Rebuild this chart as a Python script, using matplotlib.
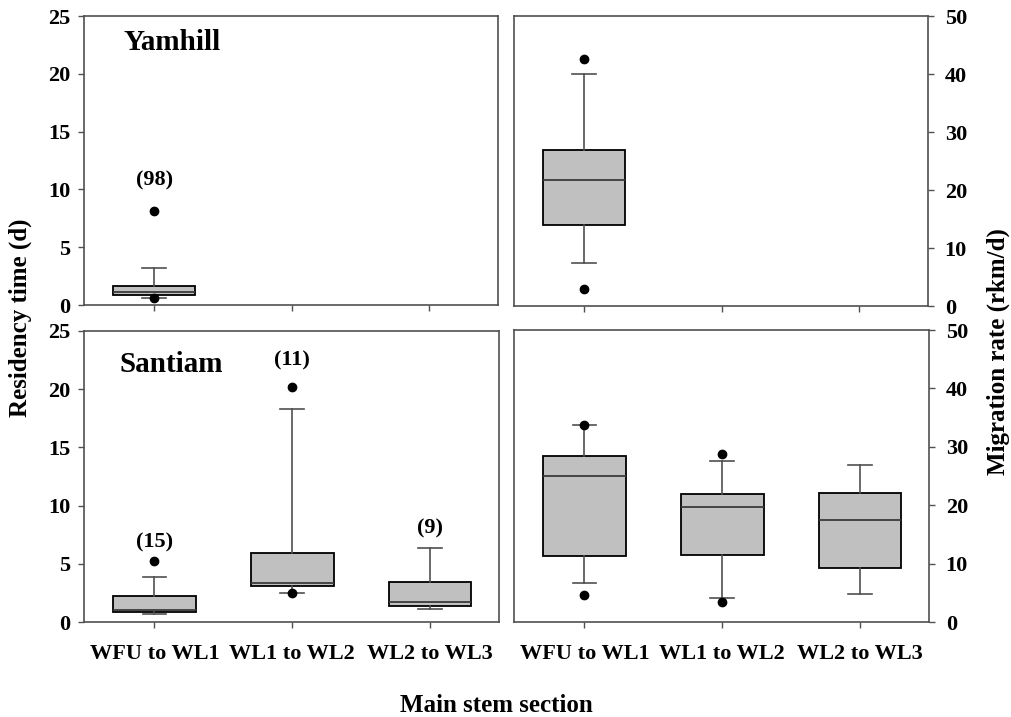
import matplotlib
matplotlib.use("Agg")
import matplotlib.pyplot as plt

plt.rcParams['font.family'] = ['Liberation Serif', 'DejaVu Serif']
plt.rcParams['font.weight'] = 'bold'

sections = ["WFU to WL1", "WL1 to WL2", "WL2 to WL3"]

# Residency time (d) - Yamhill (only first section)
yam_res_q1 = [0.87]
yam_res_med = [1.1]
yam_res_q3 = [1.68]
yam_res_lo = [0.6]
yam_res_hi = [3.2]
yam_res_fliers = [[8.1, 0.6]]
yam_n = ["(98)"]
yam_label_y = [10.8]

# Migration rate (rkm/d) - Yamhill
yam_mig_q1 = [13.97]
yam_mig_med = [21.8]
yam_mig_q3 = [26.96]
yam_mig_lo = [7.45]
yam_mig_hi = [39.95]
yam_mig_fliers = [[42.6, 3.0]]

# Residency time (d) - Santiam
san_res_q1 = [0.86, 3.06, 1.40]
san_res_med = [1.0, 3.37, 1.69]
san_res_q3 = [2.2, 5.89, 3.43]
san_res_lo = [0.69, 2.49, 1.09]
san_res_hi = [3.86, 18.3, 6.37]
san_res_fliers = [[5.2], [20.2, 2.49], []]
san_n = ["(15)", "(11)", "(9)"]
san_label_y = [6.8, 22.5, 8.0]

# Migration rate (rkm/d) - Santiam
san_mig_q1 = [11.23, 11.46, 9.29]
san_mig_med = [25.03, 19.73, 17.45]
san_mig_q3 = [28.4, 21.95, 22.12]
san_mig_lo = [6.67, 4.05, 4.73]
san_mig_hi = [33.75, 27.6, 26.9]
san_mig_fliers = [[33.8, 4.67], [28.7, 3.48], []]

W, H = 1011, 717
fig = plt.figure(figsize=(W / 100, H / 100), dpi=100)


def add_ax(x, y, w, h):
    return fig.add_axes([x / W, (H - y - h) / H, w / W, h / H])


ax_tl = add_ax(84, 16, 414, 289)
ax_tr = add_ax(514, 16, 414, 290)
ax_bl = add_ax(84, 331, 415, 291)
ax_br = add_ax(514, 330, 415, 292)

spine_col = '#505050'


def stats(q1, med, q3, lo, hi, fl):
    return [dict(q1=a, med=b, q3=c, whislo=d, whishi=e, fliers=f)
            for a, b, c, d, e, f in zip(q1, med, q3, lo, hi, fl)]


def draw(ax, st, ymax, yticks, right=False, xlabels=False):
    ax.bxp(st, positions=list(range(1, len(st) + 1)), widths=0.6,
           capwidths=0.17, patch_artist=True, showfliers=True,
           boxprops=dict(facecolor='#c0c0c0', edgecolor='black', linewidth=1.3),
           medianprops=dict(color='#3a3a3a', linewidth=1.3),
           whiskerprops=dict(color='#505050', linewidth=1.2),
           capprops=dict(color='#505050', linewidth=1.2),
           flierprops=dict(marker='o', markerfacecolor='black',
                           markeredgecolor='black', markersize=6))
    ax.set_xlim(0.49, 3.5)
    ax.set_ylim(0, ymax)
    ax.set_yticks(yticks)
    ax.set_xticks([1, 2, 3])
    if xlabels:
        ax.set_xticklabels(sections, fontsize=16, fontweight='bold')
    else:
        ax.set_xticklabels([])
    for s in ax.spines.values():
        s.set_color(spine_col)
        s.set_linewidth(1.2)
    ax.tick_params(axis='both', direction='out', length=4, width=1,
                   color=spine_col, labelsize=16, pad=6)
    ax.tick_params(axis='x', pad=12)
    if right:
        ax.yaxis.tick_right()
        ax.tick_params(axis='y', left=False, right=True, pad=8)
    else:
        ax.tick_params(axis='y', pad=6)


draw(ax_tl, stats(yam_res_q1, yam_res_med, yam_res_q3, yam_res_lo, yam_res_hi, yam_res_fliers),
     25, [0, 5, 10, 15, 20, 25])
draw(ax_tr, stats(yam_mig_q1, yam_mig_med, yam_mig_q3, yam_mig_lo, yam_mig_hi, yam_mig_fliers),
     50, [0, 10, 20, 30, 40, 50], right=True)
draw(ax_bl, stats(san_res_q1, san_res_med, san_res_q3, san_res_lo, san_res_hi, san_res_fliers),
     25, [0, 5, 10, 15, 20, 25], xlabels=True)
draw(ax_br, stats(san_mig_q1, san_mig_med, san_mig_q3, san_mig_lo, san_mig_hi, san_mig_fliers),
     50, [0, 10, 20, 30, 40, 50], right=True, xlabels=True)

for i, (t, y) in enumerate(zip(yam_n, yam_label_y)):
    ax_tl.text(i + 1, y, t, ha='center', va='center', fontsize=16, fontweight='bold')
for i, (t, y) in enumerate(zip(san_n, san_label_y)):
    ax_bl.text(i + 1, y, t, ha='center', va='center', fontsize=16, fontweight='bold')

ax_tl.text(0.78, 22.7, "Yamhill", ha='left', va='center', fontsize=21, fontweight='bold')
ax_bl.text(0.75, 22.1, "Santiam", ha='left', va='center', fontsize=21, fontweight='bold')

fig.text(20 / W, 1 - 318 / H, "Residency time (d)", rotation=90, ha='center', va='center',
         fontsize=18, fontweight='bold')
fig.text(998 / W, 1 - 352 / H, "Migration rate (rkm/d)", rotation=90, ha='center', va='center',
         fontsize=18, fontweight='bold')
fig.text(496 / W, 1 - 705 / H, "Main stem section", ha='center', va='center',
         fontsize=18, fontweight='bold')

fig.savefig("out.png", dpi=100)
